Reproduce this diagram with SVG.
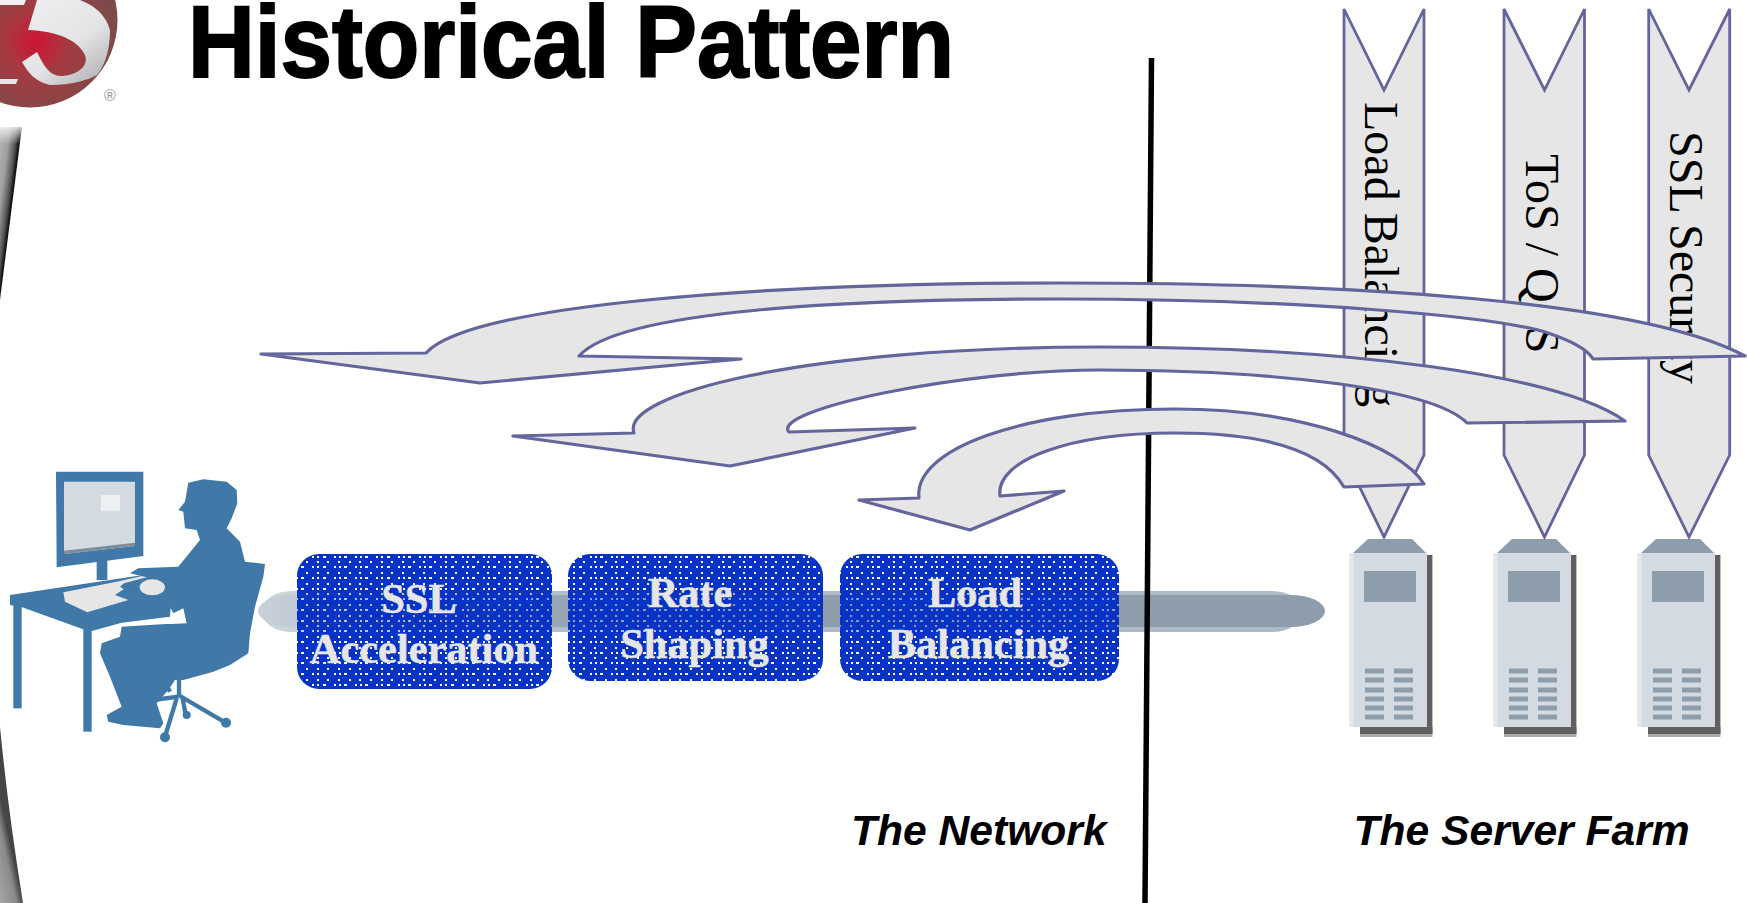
<svg xmlns="http://www.w3.org/2000/svg" xmlns:xlink="http://www.w3.org/1999/xlink" width="1747" height="903" viewBox="0 0 1747 903">
<style>
.chev{fill:#e6e6e6;stroke:#63659c;stroke-width:2.8;stroke-linejoin:miter}
.arrow{fill:#e6e6e6;stroke:#63659c;stroke-width:3.2;stroke-linejoin:round}
.chevt{font-family:"Liberation Serif",serif;font-size:48px;fill:#000}
.boxt{font-family:"Liberation Serif",serif;font-weight:bold;font-size:42.4px;fill:#e6e6e6;stroke:#e6e6e6;stroke-width:0.5;text-anchor:middle}
.lab{font-family:"Liberation Sans",Arial,sans-serif;font-weight:bold;font-style:italic;font-size:42.6px;fill:#000}
.box{fill:url(#dots)}
.blue{fill:#3f78a8}
</style>
<defs>
<filter id="soft" x="-5%" y="-5%" width="110%" height="110%"><feGaussianBlur stdDeviation="0.6"/></filter>
<pattern id="dots" patternUnits="userSpaceOnUse" width="64" height="32">
<path shape-rendering="crispEdges" fill-rule="evenodd" fill="#0533c8" d="M0 0H64V32H0Z
M3 1h3v2h-3Z M14 1h2v2h-2Z M19 1h2v2h-2Z M24 1h3v2h-3Z M35 1h2v2h-2Z M40 1h2v2h-2Z M45 1h3v2h-3Z M56 1h2v2h-2Z M61 1h2v2h-2Z
M7 7h2v2h-2Z M18 7h2v2h-2Z M29 7h2v2h-2Z M39 7h2v2h-2Z M50 7h2v2h-2Z M61 7h2v2h-2Z
M3 12h3v2h-3Z M14 12h2v2h-2Z M19 12h2v2h-2Z M24 12h3v2h-3Z M35 12h2v2h-2Z M40 12h2v2h-2Z M45 12h3v2h-3Z M56 12h2v2h-2Z M61 12h2v2h-2Z
M7 17h2v2h-2Z M18 17h2v2h-2Z M29 17h2v2h-2Z M39 17h2v2h-2Z M50 17h2v2h-2Z M61 17h2v2h-2Z
M3 22h3v2h-3Z M14 22h2v2h-2Z M19 22h2v2h-2Z M24 22h3v2h-3Z M35 22h2v2h-2Z M40 22h2v2h-2Z M45 22h3v2h-3Z M56 22h2v2h-2Z M61 22h2v2h-2Z
M7 28h2v2h-2Z M18 28h2v2h-2Z M29 28h2v2h-2Z M39 28h2v2h-2Z M50 28h2v2h-2Z M61 28h2v2h-2Z"/>
</pattern>
<linearGradient id="bandOuter" gradientUnits="userSpaceOnUse" x1="258" y1="0" x2="620" y2="0"><stop offset="0" stop-color="#cdd4dc"/><stop offset="1" stop-color="#aebbc6"/></linearGradient>
<linearGradient id="bandInner" gradientUnits="userSpaceOnUse" x1="258" y1="0" x2="620" y2="0"><stop offset="0" stop-color="#c8d0da"/><stop offset="1" stop-color="#8d9dac"/></linearGradient>
<linearGradient id="swTop" gradientUnits="userSpaceOnUse" x1="-2" y1="125" x2="22" y2="128"><stop offset="0" stop-color="#b8b8b8"/><stop offset="0.5" stop-color="#a0a0a0"/><stop offset="0.8" stop-color="#555"/><stop offset="0.95" stop-color="#111"/><stop offset="1" stop-color="#222"/></linearGradient>
<linearGradient id="swFade" x1="0" y1="0" x2="0" y2="1"><stop offset="0" stop-color="#fff"/><stop offset="1" stop-color="#fff" stop-opacity="0"/></linearGradient>
<linearGradient id="swBot" gradientUnits="userSpaceOnUse" x1="0" y1="905" x2="23" y2="900"><stop offset="0" stop-color="#a8a8a8"/><stop offset="0.7" stop-color="#8a8a8a"/><stop offset="1" stop-color="#444"/></linearGradient>
<radialGradient id="sphere" gradientUnits="userSpaceOnUse" cx="36" cy="42" r="80"><stop offset="0" stop-color="#cf1436"/><stop offset="0.4" stop-color="#a53a42"/><stop offset="1" stop-color="#7d4a48"/></radialGradient>
<linearGradient id="five" x1="0" y1="0" x2="1" y2="1"><stop offset="0" stop-color="#f2f2f4"/><stop offset="0.6" stop-color="#e4e4e6"/><stop offset="1" stop-color="#a9a9ab"/></linearGradient>
<g id="srv">
<rect x="1427" y="555" width="5.4" height="179" fill="#5f5f5f"/>
<rect x="1360" y="727" width="72.4" height="7" fill="#5f5f5f"/>
<rect x="1360" y="734" width="72.4" height="3" fill="#a8a8a8"/>
<polygon points="1353,553 1368,539 1412,539 1426,553" fill="#8d9dac"/>
<rect x="1349.5" y="553" width="77.5" height="174" fill="#d3dae1"/>
<rect x="1349.5" y="553" width="4" height="174" fill="#e3e8ed"/>
<rect x="1364" y="571" width="52" height="31" fill="#8d9dac"/>
<g fill="#8d9dac">
<rect x="1365" y="668.500" width="19" height="5"/><rect x="1394" y="668.500" width="19" height="5"/>
<rect x="1365" y="677.500" width="19" height="5"/><rect x="1394" y="677.500" width="19" height="5"/>
<rect x="1365" y="687.500" width="19" height="5"/><rect x="1394" y="687.500" width="19" height="5"/>
<rect x="1365" y="696.500" width="19" height="5"/><rect x="1394" y="696.500" width="19" height="5"/>
<rect x="1365" y="705.500" width="19" height="5"/><rect x="1394" y="705.500" width="19" height="5"/>
<rect x="1365" y="714.500" width="19" height="5"/><rect x="1394" y="714.500" width="19" height="5"/>
</g>
</g>
</defs>
<rect width="1747" height="903" fill="#fff"/>

<g id="swoosh">
<polygon points="22,127 0,300 0,127" fill="url(#swTop)" filter="url(#soft)"/>
<rect x="0" y="122" width="26" height="22" fill="url(#swFade)"/>
<path d="M0,727 Q8,810 23,903 L0,903 Z" fill="url(#swBot)" filter="url(#soft)"/>
</g>

<g id="logo">
<circle cx="30" cy="20" r="87.5" fill="url(#sphere)" filter="url(#soft)"/>
<path d="M37,0 L28,30 C 57,31 78,40 85,55 C 89,66 78,75 62,76 C 50,76 45,68 37,52 L22,62 C 28,72 35,82 50,85 C 72,85 88,80 97,75 C 106,64 110,48 110,30 C 106,16 96,6 80,0 Z M0,0 H26 L24,5 H0 Z M0,79 H18 L16,84 H0 Z" fill="url(#five)" filter="url(#soft)"/>
<text x="110" y="101" font-family="'Liberation Sans',Arial,sans-serif" font-size="16" fill="#9a9a9a" text-anchor="middle">®</text>
</g>

<text id="title" x="188" y="77" font-family="'Liberation Sans',Arial,sans-serif" font-weight="bold" font-size="102" fill="#000" stroke="#000" stroke-width="2" textLength="766" lengthAdjust="spacingAndGlyphs">Historical Pattern</text>

<g id="band">
<rect x="262" y="591" width="1040" height="41" rx="30" ry="20" fill="url(#bandOuter)"/>
<rect x="258" y="595" width="1067" height="32" rx="34" ry="16" fill="url(#bandInner)"/>
</g>

<g id="box-ssl">
<rect class="box" x="297" y="554" width="255" height="135" rx="22"/>
<text class="boxt" x="419" y="613">SSL</text>
<text class="boxt" x="424" y="663">Acceleration</text>
</g>
<g id="box-rate">
<rect class="box" x="568" y="554" width="255" height="127" rx="22"/>
<text class="boxt" x="690" y="607">Rate</text>
<text class="boxt" x="694.500" y="658">Shaping</text>
</g>
<g id="box-load">
<rect class="box" x="840" y="554" width="279" height="127" rx="22"/>
<text class="boxt" x="975" y="607">Load</text>
<text class="boxt" x="978.500" y="658">Balancing</text>
</g>

<line id="divider" x1="1151.500" y1="58" x2="1145" y2="903" stroke="#000" stroke-width="5.500"/>

<g id="person" transform="translate(0,460) scale(0.33333)" filter="url(#soft)">
<path class="blue" d="M168,35 H430 V288 L170,322 Z"/>
<polygon points="192,65 405,65 405,258 192,282" fill="#d3dae1"/>
<polygon points="192,272 405,248 405,258 192,282" fill="#7f8c99"/>
<rect x="303" y="105" width="57" height="47" fill="#ecf0f3"/>
<rect class="blue" x="290" y="300" width="32" height="60"/>
<path class="blue" d="M30,405 L430,345 L520,345 L510,470 L365,488 L278,512 L262,512 L62,440 L30,435 Z"/>
<rect class="blue" x="40" y="435" width="25" height="310"/>
<rect class="blue" x="250" y="505" width="25" height="310"/>
<polygon points="190,397 350,365 440,345 445,352 375,385 345,405 385,420 262,457 195,425" fill="#e6e6e6"/>
<path class="blue" d="M565,68 L610,58 L680,65 L710,90 L712,130 L695,175 L680,205 L720,245 L735,305 L795,312 L790,350 L765,440 L750,520 L745,580 L690,615 L640,635 L550,660 L525,660 L505,690 L470,730 L490,790 L480,805 L370,795 L325,785 L320,765 L365,740 L330,650 L300,580 L305,550 L360,530 L365,500 L497,492 L515,492 L560,490 L550,445 L520,460 L500,420 L470,400 L455,410 L420,395 L395,385 L385,395 L360,380 L372,370 L440,352 L390,340 L415,325 L535,320 L600,240 L590,210 L555,205 L550,155 L535,150 L555,125 Z"/>
<ellipse cx="457" cy="382" rx="38" ry="24" fill="#e6e6e6"/>
<g stroke="#3f78a8" fill="none" stroke-width="13">
<line x1="475" y1="630" x2="510" y2="695"/>
<line x1="537" y1="655" x2="537" y2="705"/>
<line x1="535" y1="705" x2="680" y2="790"/>
<line x1="530" y1="715" x2="495" y2="830"/>
<line x1="535" y1="710" x2="460" y2="720"/>
<line x1="548" y1="715" x2="558" y2="770"/>
</g>
<circle class="blue" cx="678" cy="788" r="15"/>
<circle class="blue" cx="495" cy="832" r="15"/>
<circle class="blue" cx="560" cy="765" r="12"/>
</g>

<g id="server-1" filter="url(#soft)"><use xlink:href="#srv" href="#srv"/></g>
<g id="server-2" filter="url(#soft)"><use xlink:href="#srv" href="#srv" x="144"/></g>
<g id="server-3" filter="url(#soft)"><use xlink:href="#srv" href="#srv" x="288"/></g>

<g id="chevron-load">
<polygon class="chev" points="1344,9 1384,90 1424,9 1424,455 1384,537 1344,455"/>
<text class="chevt" transform="translate(1365,102) rotate(90)">Load Balancing</text>
</g>
<g id="chevron-tos">
<polygon class="chev" points="1504,9 1544.500,90 1584.500,9 1584.500,455 1544.500,537 1504,455"/>
<text class="chevt" transform="translate(1525.700,154) rotate(90)">ToS / QoS</text>
</g>
<g id="chevron-ssl">
<polygon class="chev" points="1648.700,9 1689,90 1729.700,9 1729.700,455 1689,537 1648.700,455"/>
<text class="chevt" transform="translate(1669.500,131) rotate(90)">SSL Security</text>
</g>

<g id="connectors">
<path class="arrow" d="M261,354 L426,353 C 470,305 760,283 1060,283 C 1350,283 1640,300 1745,356 L1593,359 Q1585,345 1545,332 C 1490,316 1300,299 1060,299 C 850,299 620,310 579,356 L741,359 L480,383 Z"/>
<path class="arrow" d="M513,436 L634,433 C 620,395 800,347 1100,347 C 1350,347 1560,375 1625,421 L1467,423 C 1430,385 1250,370 1100,370 C 960,370 770,410 789,432 L915,428 L730,466 Z"/>
<path class="arrow" d="M859,500 L919,498 C 913,450 1020,409 1175,409 C 1300,409 1400,445 1424,484 L1344,487 C 1320,445 1250,433 1175,433 C 1070,433 995,460 1000,496 L1064,491 L970,530 Z"/>
</g>

<text id="label-network" class="lab" x="851" y="845">The Network</text>
<text id="label-farm" class="lab" x="1353.500" y="845">The Server Farm</text>
</svg>
